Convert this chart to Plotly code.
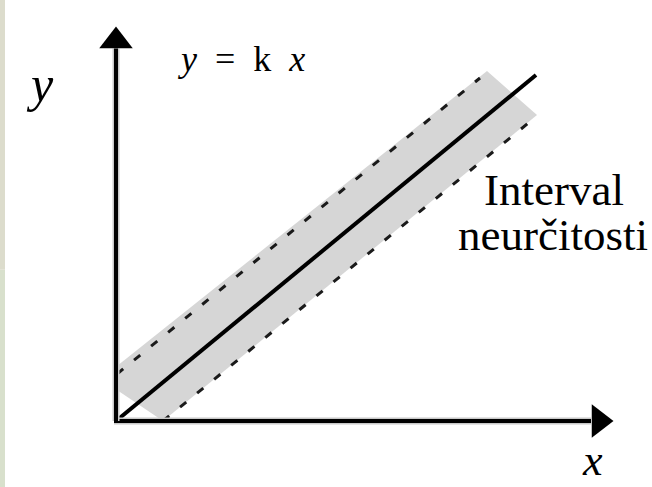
import plotly.graph_objects as go

# Coordinates are in "chart units": origin at the corner of the axes,
# one unit is the same length on both axes.

# y = k x (the regression line)
line_x = [0.0, 8.4]
line_y = [0.0, 6.92]

# dashed limits of the uncertainty interval
upper_x = [0.02, 7.28]
upper_y = [0.94, 6.86]
lower_x = [0.94, 8.42]
lower_y = [0.0, 6.1]

# shaded band (interval of uncertainty)
band_x = [0.02, 7.42, 8.42, 0.94, 0.02, 0.02]
band_y = [1.1, 7.0, 6.12, 0.0, 0.62, 1.1]

# axes and their arrow heads
xaxis_x = [-0.04, 9.5]
xaxis_y = [0.0, 0.0]
yaxis_x = [0.0, 0.0]
yaxis_y = [0.0, 7.45]
xarrow = (9.66, 0.0)
yarrow = (0.0, 7.6)

# text labels
eq_text = "<i>y</i>\u00a0 =\u00a0 k\u00a0 <i>x</i>"
eq_pos = (2.51, 7.24)
band_lines = ["Interval", "neurčitosti"]
band_pos = [(8.76, 4.62), (8.73, 3.72)]
ylabel_pos = (-1.52, 6.74)
xlabel_pos = (9.52, -1.32)

fig = go.Figure()

fig.add_trace(go.Scatter(x=band_x, y=band_y, fill="toself", fillcolor="#d6d6d6",
                         line=dict(width=0), mode="lines", hoverinfo="skip"))
fig.add_trace(go.Scatter(x=upper_x, y=upper_y, mode="lines",
                         line=dict(color="#1a1a1a", width=3, dash="8px,14px")))
fig.add_trace(go.Scatter(x=lower_x, y=lower_y, mode="lines",
                         line=dict(color="#1a1a1a", width=3, dash="8px,14px")))
fig.add_trace(go.Scatter(x=line_x, y=line_y, mode="lines",
                         line=dict(color="black", width=4)))

# axes: soft grey halo then black line
for ax_x, ax_y in [(xaxis_x, xaxis_y), (yaxis_x, yaxis_y)]:
    fig.add_trace(go.Scatter(x=ax_x, y=ax_y, mode="lines",
                             line=dict(color="#c8c8c8", width=7)))
    fig.add_trace(go.Scatter(x=ax_x, y=ax_y, mode="lines",
                             line=dict(color="black", width=4)))

fig.add_trace(go.Scatter(x=[xarrow[0]], y=[xarrow[1]], mode="markers",
                         marker=dict(symbol="triangle-right", size=29, color="black")))
fig.add_trace(go.Scatter(x=[yarrow[0]], y=[yarrow[1]], mode="markers",
                         marker=dict(symbol="triangle-up", size=29, color="black")))

serif = "Liberation Serif, Times New Roman, serif"
fig.add_annotation(x=eq_pos[0], y=eq_pos[1], text=eq_text, showarrow=False,
                   font=dict(family=serif, size=36, color="black"))
for txt, pos in zip(band_lines, band_pos):
    fig.add_annotation(x=pos[0], y=pos[1], text=txt, showarrow=False,
                       font=dict(family=serif, size=45, color="black"))
fig.add_annotation(x=ylabel_pos[0], y=ylabel_pos[1], text="<i>y</i>", showarrow=False,
                   font=dict(family=serif, size=50, color="black"))
fig.add_annotation(x=xlabel_pos[0], y=xlabel_pos[1], text="<i>x</i>", showarrow=False,
                   yanchor="bottom", font=dict(family=serif, size=44, color="black"))

# thin tinted strip along the left edge
fig.add_shape(type="rect", xref="paper", yref="paper", x0=0, x1=5 / 652, y0=0, y1=0.446,
              fillcolor="#d8e0cc", line=dict(width=0), layer="below")
fig.add_shape(type="rect", xref="paper", yref="paper", x0=0, x1=5 / 652, y0=0.446, y1=1,
              fillcolor="#dcdccc", line=dict(width=0), layer="below")

fig.update_layout(
    width=652, height=487, autosize=False,
    margin=dict(l=0, r=0, t=0, b=0),
    paper_bgcolor="white", plot_bgcolor="white",
    showlegend=False,
    xaxis=dict(visible=False, range=[-2.32, 10.72], fixedrange=True),
    yaxis=dict(visible=False, range=[-1.32, 8.42], fixedrange=True),
)

fig.write_html("out.html", config={"displayModeBar": False},
               post_script="document.body.style.margin='0';")
